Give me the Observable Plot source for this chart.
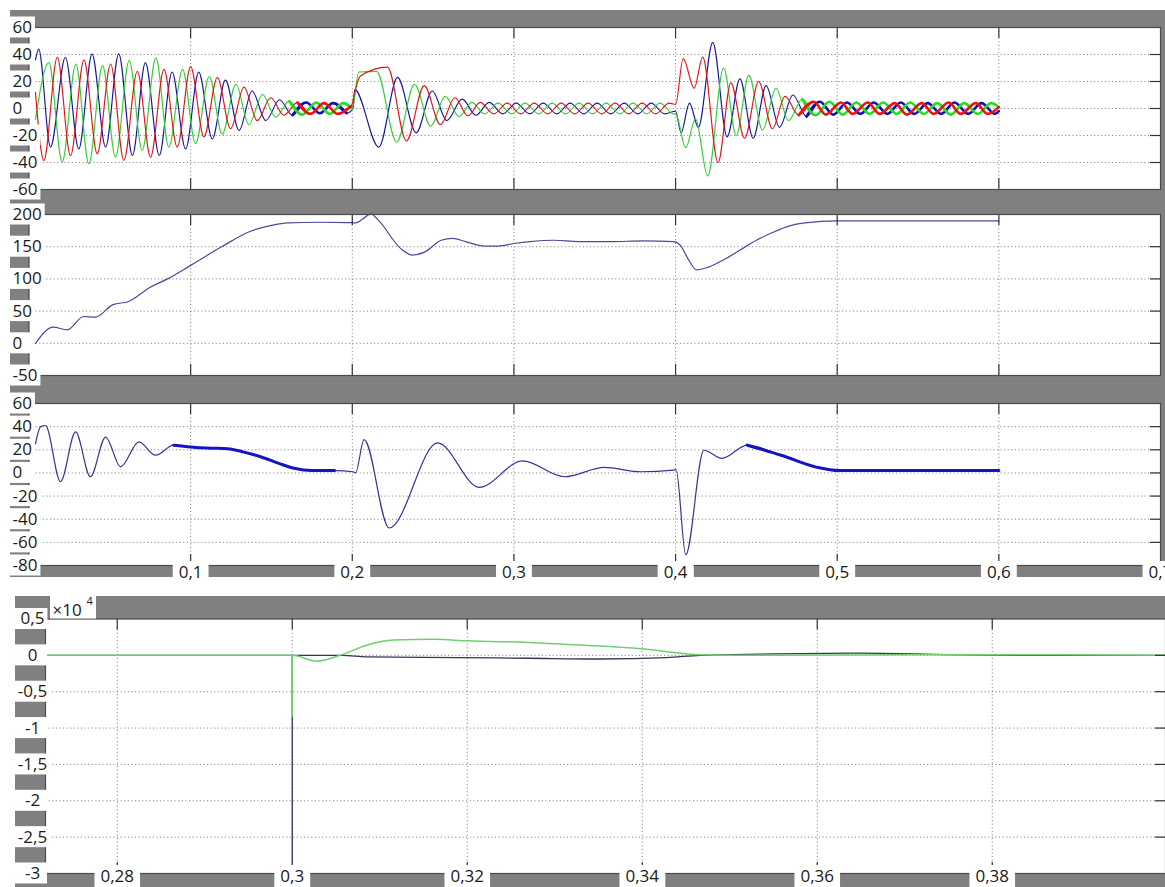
<!DOCTYPE html>
<html><head><meta charset="utf-8">
<script src="https://cdn.jsdelivr.net/npm/d3@7"></script>
<script src="https://cdn.jsdelivr.net/npm/@observablehq/plot@0.6"></script>
<style>
html,body{margin:0;padding:0;background:#fff;overflow:hidden;}
#root{position:relative;width:1165px;height:887px;}
.bg{position:absolute;background:#808080;}
.panel{position:absolute;left:0;}
</style></head><body><div id="root"></div>
<script>
// ---------- tick values ----------
const xTicksTop = [0.1, 0.2, 0.3, 0.4, 0.5, 0.6, 0.7];
const xTicksZoom = [0.28, 0.3, 0.32, 0.34, 0.36, 0.38];
const yTicks1 = [60, 40, 20, 0, -20, -40, -60];
const yTicks2 = [200, 150, 100, 50, 0, -50];
const yTicks3 = [60, 40, 20, 0, -20, -40, -60, -80];
const yTicks4 = [0.5, 0, -0.5, -1, -1.5, -2, -2.5, -3];

// ---------- panel 1: three phase currents [t, value] (extrema) ----------
const phaseBlue = [
  [0.004,36],[0.006,44],[0.0133,-28.6],[0.0225,38],[0.0308,-30],[0.039,40.5],[0.0474,-28.6],[0.0555,40.5],[0.064,-34.8],
  [0.072,34],[0.0806,-34.8],[0.0885,27],[0.0969,-30],[0.105,27],[0.1134,-22.5],[0.1215,21],[0.13,-16.3],[0.138,13],
  [0.1465,-8.9],[0.155,6.5],[0.163,-5],[0.1715,4.5],[0.18,-3.5],[0.188,4],[0.1965,-3.5],
  [0.2005,0],[0.2015,14],[0.2164,-28.6],[0.228,23],[0.2395,-18],[0.2495,13],[0.2585,-9],[0.268,7],[0.2765,-5],
  [0.2847,4.5],[0.2931,-4],[0.3014,4],[0.3098,-4],[0.3181,4],[0.3265,-4],[0.3348,4],[0.3432,-4],[0.3515,4],
  [0.3599,-4],[0.3682,4],[0.3766,-4],[0.3849,4],[0.3933,-4],[0.4,-2],
  [0.4034,-18],[0.4086,4],[0.4141,-14],[0.423,49],[0.4319,-21],[0.4398,22],[0.448,-22],[0.456,17],[0.4643,-14],
  [0.4726,10],[0.481,-6],[0.4893,5],[0.4976,-4.5],[0.506,4.5],[0.5143,-4],[0.5226,4.5],[0.531,-4],[0.5393,4.5],
  [0.5476,-4],[0.556,4],[0.5643,-4],[0.5726,4.5],[0.581,-4],[0.5893,4],[0.5976,-4],[0.6,-2]
];
const phaseRed = [
  [0.004,12],[0.0092,-38.5],[0.0175,38],[0.0257,-35],[0.034,36],[0.0422,-33.6],[0.0505,33],[0.0587,-38.5],
  [0.067,27.6],[0.0752,-36],[0.0835,29],[0.0917,-28.6],[0.1,31],[0.1082,-21],[0.1165,23],[0.1247,-15],[0.133,15.8],
  [0.1412,-9],[0.1495,8],[0.1577,-5],[0.166,4.5],[0.1742,-4],[0.1825,4],[0.191,-4],[0.1995,2],
  [0.2015,12],[0.205,24],[0.2218,30.6],[0.2335,-24],[0.2445,17],[0.2545,-12],[0.2635,8],[0.2715,-5.5],
  [0.2791,4.5],[0.2875,-4],[0.2958,4],[0.3042,-4],[0.3125,4],[0.3209,-4],[0.3292,4],[0.3376,-4],[0.3459,4],
  [0.3543,-4],[0.3626,4],[0.371,-4],[0.3793,4],[0.3877,-4],[0.396,4],[0.4,3],
  [0.4047,37],[0.4115,15],[0.4168,38],[0.4263,-40],[0.4342,19],[0.4427,-22],[0.4514,20],[0.4599,-15],[0.4677,9],
  [0.4762,-5],[0.4855,5],[0.4929,-4.5],[0.5022,4.5],[0.5096,-4],[0.5189,4.5],[0.5263,-4],[0.5356,4],[0.543,-4.5],
  [0.5523,4],[0.5597,-4],[0.569,4.5],[0.5764,-4],[0.5857,4],[0.5931,-4],[0.6,1]
];
const phaseGreen = [
  [0.004,-8],[0.0123,34],[0.0205,-39.7],[0.029,33],[0.037,-41],[0.0455,31.8],[0.0535,-36],[0.062,35.6],[0.07,-31],
  [0.0785,37.5],[0.0865,-28.6],[0.095,29],[0.103,-26],[0.1115,23.7],[0.1195,-19],[0.128,18],[0.136,-12],[0.1445,10.4],
  [0.1525,-6.5],[0.161,5.5],[0.169,-4.5],[0.1777,4.5],[0.186,-4],[0.1944,4],[0.2,0],
  [0.204,27],[0.215,27.5],[0.2275,-25],[0.2385,18],[0.2485,-13],[0.2575,9],[0.266,-6],[0.274,4.5],
  [0.2819,-4],[0.2902,4],[0.2986,-4],[0.3069,4],[0.3153,-4],[0.3236,4],[0.332,-4],[0.3403,4],[0.3487,-4],
  [0.357,4],[0.3654,-4],[0.3737,4],[0.3821,-4],[0.3904,4],[0.3988,-4],[0.4,-4],
  [0.4063,-29],[0.4123,-7.5],[0.4199,-50],[0.4297,30],[0.4375,-20],[0.4453,24.5],[0.4538,-16],[0.4621,15],[0.4699,-9],
  [0.4784,7],[0.4867,-5],[0.4951,5],[0.5034,-4.5],[0.5118,4.5],[0.5201,-4],[0.5285,4.5],[0.5368,-4],[0.5452,4.5],
  [0.5535,-4],[0.5619,4],[0.5702,-4.5],[0.5786,4],[0.5869,-4],[0.5953,4],[0.6,1]
];
const noisy1 = [[0.158, 0.2], [0.475, 0.6]];

// ---------- panel 2: speed ----------
const speed = [
  [0.004,0],[0.015,25],[0.0237,21],[0.0338,41.6],[0.041,40.5],[0.052,60],[0.0617,65],[0.075,87],[0.0857,100],
  [0.1,121],[0.1186,149],[0.137,174],[0.15,183],[0.16,187],[0.18,188],[0.197,187.5],[0.202,187],[0.2065,193],
  [0.2115,201],[0.2165,190],[0.23,147],[0.237,137],[0.245,142],[0.255,160],[0.262,163],[0.27,158],[0.282,151],
  [0.29,151],[0.3,155],[0.31,158],[0.325,160],[0.34,158],[0.36,158],[0.38,159],[0.399,158],[0.403,152],
  [0.408,130],[0.413,114],[0.42,118],[0.43,130],[0.44,145],[0.45,160],[0.46,172],[0.47,182],[0.48,187],
  [0.5,190],[0.55,190],[0.6,190]
];

// ---------- panel 3: torque ----------
const torque = [
  [0.004,25],[0.0072,40],[0.0102,41],[0.0195,-7.6],[0.0288,35.4],[0.038,-3.3],[0.0474,31],[0.0567,5.3],[0.068,26.8],
  [0.0783,15.3],[0.0895,24],[0.1,22.5],[0.11,21.5],[0.123,21],[0.133,18],[0.1433,14],[0.155,8],[0.164,4],[0.175,2],
  [0.189,2],[0.2005,1],[0.202,0],[0.2073,28.8],[0.2228,-47.6],[0.2528,25.9],[0.2785,-12.4],[0.3054,10.4],
  [0.3312,-3.3],[0.356,4.8],[0.3786,1],[0.3985,2.4],[0.4003,2.9],[0.4063,-70.6],[0.4175,19.6],[0.4286,12.5],
  [0.4443,24],[0.4653,15.3],[0.4876,4.8],[0.501,2],[0.55,2],[0.6,2]
];
const noisy3 = [[0.085, 0.2], [0.432, 0.6]];

// ---------- panel 4: zoom (x10^4) ----------
const zoomGreen = [
  [0.2718,0],[0.3,0],[0.3028,-0.08],[0.3057,0.01],[0.3085,0.14],[0.3116,0.21],[0.3162,0.22],[0.32,0.2],
  [0.3276,0.175],[0.3333,0.14],[0.34,0.09],[0.3466,0.01],[0.355,0],[0.37,0.01],[0.385,0.01],[0.3998,0]
];
const zoomBlue = [
  [0.2718,0],[0.3,0],[0.3057,0],[0.3085,-0.02],[0.319,-0.03],[0.327,-0.04],[0.335,-0.05],[0.3428,-0.03],
  [0.3466,0],[0.355,0.02],[0.365,0.03],[0.375,0.01],[0.385,0],[0.3998,0]
];
const spikes = [{t: 0.3, lo: -2.86, key: "blue"}, {t: 0.3, lo: -0.85, key: "green"}];

// ---------- helpers ----------
const W = 1165;
const FONT = '"Open Sans", "DejaVu Sans", sans-serif';
const fmt = d => String(+(+d).toFixed(3)).replace(".", ",");
const rows = arr => arr.map(([t, v]) => ({t, v}));
function noisyRows(arr, intervals) {
  const out = [];
  intervals.forEach(([a, b], i) => {
    for (const [t, v] of arr) if (t >= a && t <= b) out.push({t, v, seg: i});
  });
  return out;
}
const root = document.getElementById("root");
function bg(l, t, w, h) {
  const d = document.createElement("div");
  d.className = "bg";
  Object.assign(d.style, {left: l + "px", top: t + "px", width: w + "px", height: h + "px"});
  root.appendChild(d);
}
bg(10, 10, 1155, 567);
bg(15, 596, 1150, 291);

const NS = "http://www.w3.org/2000/svg";
function rect(g, x, y, w, h) {
  const r = document.createElementNS(NS, "rect");
  r.setAttribute("x", x); r.setAttribute("y", y);
  r.setAttribute("width", w); r.setAttribute("height", h);
  r.setAttribute("fill", "white");
  g.appendChild(r);
}

function panel(cfg) {
  const {top, height, mt, mb, ml, mr, xDomain, yDomain, xTicks, yTicks, marks, showX,
         yAnchor, yPad, left, minRight, xBox, xDy} = cfg;
  const plotW = W - ml - mr, plotH = height - mt - mb;
  const gridY = yTicks.filter(v => v > yDomain[0] && v < yDomain[1]);
  const gridX = xTicks.filter(v => v > xDomain[0] && v < xDomain[1]);
  const chart = Plot.plot({
    width: W, height,
    marginTop: mt, marginBottom: mb, marginLeft: ml, marginRight: mr,
    style: {background: "transparent", fontFamily: FONT, fontSize: "17px", color: "#1a1a1a", overflow: "visible"},
    x: {domain: xDomain, axis: null},
    y: {domain: yDomain, axis: null},
    marks: [
      Plot.frame({fill: "white"}),
      Plot.ruleX(gridX, {stroke: "#555", strokeOpacity: 0.8, strokeDasharray: "1,2.6"}),
      Plot.ruleY(gridY, {stroke: "#555", strokeOpacity: 0.8, strokeDasharray: "1,2.6"}),
      ...marks,
      Plot.ruleX(gridX, {stroke: "#333", strokeWidth: 1.2, insetBottom: plotH - 11}),
      Plot.ruleX(gridX, {stroke: "#333", strokeWidth: 1.2, insetTop: plotH - 11}),
      Plot.ruleY(gridY, {stroke: "#333", strokeWidth: 1.2, insetLeft: plotW - 10}),
      Plot.frame({stroke: "#4a4a4a", strokeWidth: 1.2}),
      Plot.axisY(yTicks, {tickSize: 0, tickPadding: yPad, textAnchor: yAnchor, tickFormat: fmt, fill: "#1a1a1a", fontSize: 17, label: null}),
      showX ? Plot.axisX(xTicks, {tickSize: 0, tickPadding: 0, tickFormat: fmt, fill: "#1a1a1a", fontSize: 17, dy: xDy || 0, label: null}) : null,
      ...(cfg.extra || [])
    ]
  });
  chart.classList.add("panel");
  chart.style.top = top + "px";
  root.appendChild(chart);
  // white boxes behind tick labels
  const sr = chart.getBoundingClientRect();
  const yG = chart.querySelector('g[aria-label="y-axis tick label"]');
  if (yG) {
    const g = document.createElementNS(NS, "g");
    const ys = chart.scale("y");
    const texts = yG.querySelectorAll("text");
    texts.forEach((t, i) => {
      const r = t.getBoundingClientRect();
      const cy = ys.apply(yTicks[i]);
      const x1 = Math.max(r.right - sr.left + 3, minRight);
      rect(g, left, cy - 10.5, x1 - left, 21);
    });
    yG.parentNode.insertBefore(g, yG);
  }
  const xG = chart.querySelector('g[aria-label="x-axis tick label"]');
  if (xG) {
    const g = document.createElementNS(NS, "g");
    xG.querySelectorAll("text").forEach(t => {
      const r = t.getBoundingClientRect();
      rect(g, r.left - sr.left - 6, xBox[0], r.width + 12, xBox[1] - xBox[0]);
    });
    xG.parentNode.insertBefore(g, xG);
  }
  const mG = chart.querySelector('g[aria-label="text"]');
  if (mG && cfg.multBox) {
    const g = document.createElementNS(NS, "g");
    rect(g, cfg.multBox[0], cfg.multBox[1], cfg.multBox[2], cfg.multBox[3]);
    mG.parentNode.insertBefore(g, mG);
  }
  return chart;
}

// ---------- panel 1 ----------
const C1 = {blue: "#14149e", red: "#e01515", green: "#2fd02f"};
const C1n = {blue: "#1010b4", red: "#f01010", green: "#22dd22"};
const phases = [["blue", phaseBlue], ["green", phaseGreen], ["red", phaseRed]];
const marks1 = [];
for (const [k, arr] of phases) {
  marks1.push(Plot.line(rows(arr), {x: "t", y: "v", stroke: C1[k], strokeWidth: 1.15, curve: "monotone-x"}));
}
for (const [k, arr] of phases) {
  marks1.push(Plot.line(noisyRows(arr, noisy1), {x: "t", y: "v", z: "seg", stroke: C1n[k], strokeWidth: 2.6, curve: "monotone-x"}));
}
panel({top: 0, height: 200, mt: 27, mb: 11, ml: 28.5, mr: 5, xDomain: [0, 0.7], yDomain: [-60, 60],
  xTicks: xTicksTop, yTicks: yTicks1, marks: marks1, showX: false, yAnchor: "start", yPad: 16.5, left: 10, minRight: 33});

// ---------- panel 2 ----------
panel({top: 200, height: 180, mt: 14, mb: 5, ml: 28.5, mr: 5, xDomain: [0, 0.7], yDomain: [-50, 200],
  xTicks: xTicksTop, yTicks: yTicks2,
  marks: [Plot.line(rows(speed), {x: "t", y: "v", stroke: "#4a4a98", strokeWidth: 1.2, curve: "monotone-x"})],
  showX: false, yAnchor: "start", yPad: 16.5, left: 10, minRight: 33});

// ---------- panel 3 ----------
panel({top: 380, height: 210, mt: 23, mb: 25, ml: 28.5, mr: 5, xDomain: [0, 0.7], yDomain: [-80, 60],
  xTicks: xTicksTop, yTicks: yTicks3,
  marks: [
    Plot.line(rows(torque), {x: "t", y: "v", stroke: "#34349a", strokeWidth: 1.2, curve: "monotone-x"}),
    Plot.line(noisyRows(torque, noisy3), {x: "t", y: "v", z: "seg", stroke: "#1414c4", strokeWidth: 3, curve: "monotone-x"})
  ],
  showX: true, xBox: [181, 199], yAnchor: "start", yPad: 16.5, left: 10, minRight: 33});

// ---------- panel 4 ----------
panel({top: 590, height: 297, mt: 28.5, mb: 14, ml: 45, mr: 0, xDomain: [0.2718, 0.3998], yDomain: [-3, 0.5],
  xTicks: xTicksZoom, yTicks: yTicks4,
  marks: [
    Plot.ruleX(spikes.filter(d => d.key === "blue"), {x: "t", y1: 0, y2: "lo", stroke: "#34345e", strokeWidth: 1.3}),
    Plot.line(rows(zoomBlue), {x: "t", y: "v", stroke: "#34345e", strokeWidth: 1.3, curve: "monotone-x"}),
    Plot.ruleX(spikes.filter(d => d.key === "green"), {x: "t", y1: 0, y2: "lo", stroke: "#6fcf6f", strokeWidth: 1.5}),
    Plot.line(rows(zoomGreen), {x: "t", y: "v", stroke: "#6fcf6f", strokeWidth: 1.5, curve: "monotone-x"})
  ],
  extra: [
    Plot.text(["×10"], {frameAnchor: "top-left", dx: 7, dy: -15, fontSize: 17, fill: "#1a1a1a", textAnchor: "start"}),
    Plot.text(["4"], {frameAnchor: "top-left", dx: 41, dy: -22, fontSize: 11, fill: "#1a1a1a", textAnchor: "start"})
  ],
  multBox: [50, 6, 46, 22.5],
  showX: true, xDy: -4, xBox: [275, 297], yAnchor: "middle", yPad: 13, left: 15, minRight: 47});
</script></body></html>
